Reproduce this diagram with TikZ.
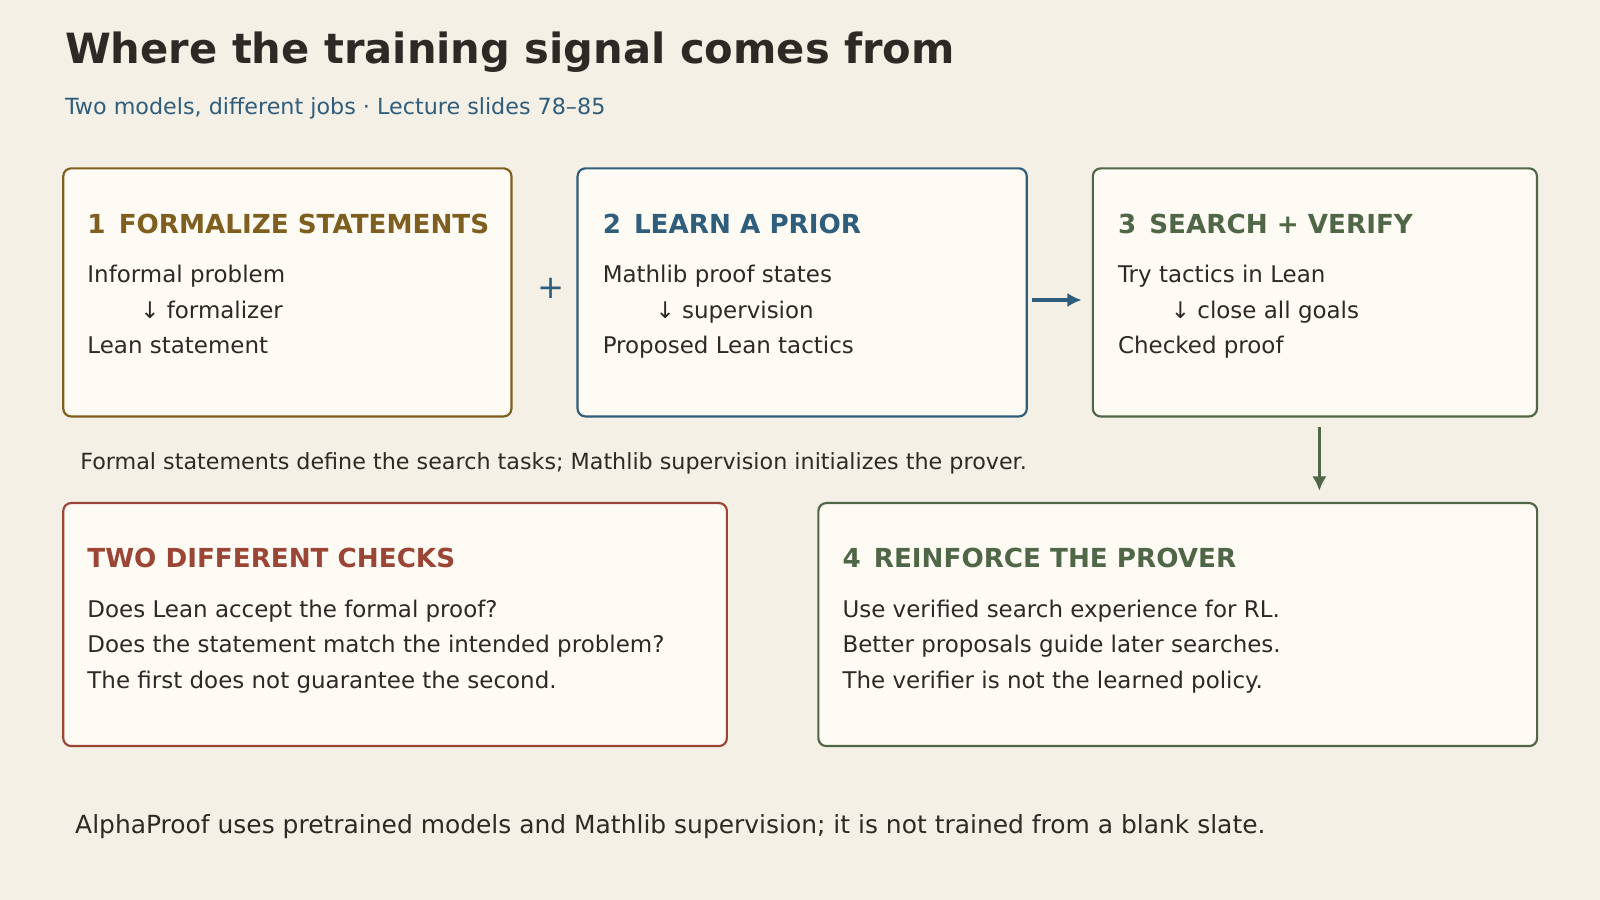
\documentclass[tikz,border=0pt]{standalone}
\usepackage{fontspec}
\setmainfont{DejaVu Sans}
\usetikzlibrary{arrows.meta}
\definecolor{bg}{HTML}{F5F0E6}
\definecolor{boxfill}{HTML}{FEFBF4}
\definecolor{gold}{HTML}{7F5F1F}
\definecolor{blu}{HTML}{2F5D7C}
\definecolor{grn}{HTML}{4F6647}
\definecolor{rd}{HTML}{9A4535}
\definecolor{ink}{HTML}{2D2A26}
\tikzset{
  x=0.01cm,y=-0.01cm,
  card/.style={draw=#1,fill=boxfill,line width=0.6pt,rounded corners=2.2pt,inner sep=0,outer sep=0,anchor=north west},
  head/.style={anchor=west,text=#1,font=\fontsize{7.3pt}{8pt}\selectfont\bfseries,inner sep=0},
  body/.style={anchor=north west,text=ink,font=\fontsize{6.4pt}{9.95pt}\selectfont,inner sep=0,align=left},
  arr/.style={-{Latex[length=4pt,width=4pt]},line width=0.85pt,draw=#1},
}
\begin{document}
\begin{tikzpicture}
\useasboundingbox[fill=bg] (0,0) rectangle (1568,882);
\node[anchor=west,text=ink,font=\fontsize{11.6pt}{13pt}\selectfont\bfseries,inner sep=0] (title) at (63,51) {Where the training signal comes from};
\node[anchor=west,text=blu,font=\fontsize{6.2pt}{7pt}\selectfont,inner sep=0] (sub) at (63,106) {Two models, different jobs · Lecture slides 78–85};

\node[card=gold,minimum width=4.39cm,minimum height=2.43cm] (b1) at (62,165) {};
\node[card=blu,minimum width=4.40cm,minimum height=2.43cm] (b2) at (566,165) {};
\node[card=grn,minimum width=4.35cm,minimum height=2.43cm] (b3) at (1071,165) {};
\node[card=rd,minimum width=6.50cm,minimum height=2.38cm] (b4) at (62,493) {};
\node[card=grn,minimum width=7.04cm,minimum height=2.38cm] (b5) at (802,493) {};

\node[head=gold] (h1) at (85,219) {1\enspace FORMALIZE STATEMENTS};
\node[body] (t1) at (85,259) {Informal problem\\\hspace{2.3em}↓ formalizer\\Lean statement};
\node[head=blu] (h2) at (590,219) {2\enspace LEARN A PRIOR};
\node[body] (t2) at (590,259) {Mathlib proof states\\\hspace{2.3em}↓ supervision\\Proposed Lean tactics};
\node[head=grn] (h3) at (1095,219) {3\enspace SEARCH + VERIFY};
\node[body] (t3) at (1095,259) {Try tactics in Lean\\\hspace{2.3em}↓ close all goals\\Checked proof};
\node[head=rd] (h4) at (85,547) {TWO DIFFERENT CHECKS};
\node[body] (t4) at (85,587) {Does Lean accept the formal proof?\\Does the statement match the intended problem?\\The first does not guarantee the second.};
\node[head=grn] (h5) at (825,547) {4\enspace REINFORCE THE PROVER};
\node[body] (t5) at (825,587) {Use verified search experience for RL.\\Better proposals guide later searches.\\The verifier is not the learned policy.};

\node[text=blu,font=\fontsize{9pt}{10pt}\selectfont,inner sep=0] (plus) at (540,283) {+};
\coordinate (a1) at (1011,294); \coordinate (a2) at (1060,294);
\draw[arr=blu] (a1) -- (a2);
\coordinate (d1) at (1293,418); \coordinate (d2) at (1293,481);
\draw[arr=grn] (d1) -- (d2);

\node[anchor=west,text=ink,font=\fontsize{6.2pt}{7pt}\selectfont,inner sep=0] (cap) at (78,454) {Formal statements define the search tasks; Mathlib supervision initializes the prover.};
\node[anchor=west,text=ink,font=\fontsize{6.95pt}{8pt}\selectfont,inner sep=0] (foot) at (73,810) {AlphaProof uses pretrained models and Mathlib supervision; it is not trained from a blank slate.};
\end{tikzpicture}
\end{document}
